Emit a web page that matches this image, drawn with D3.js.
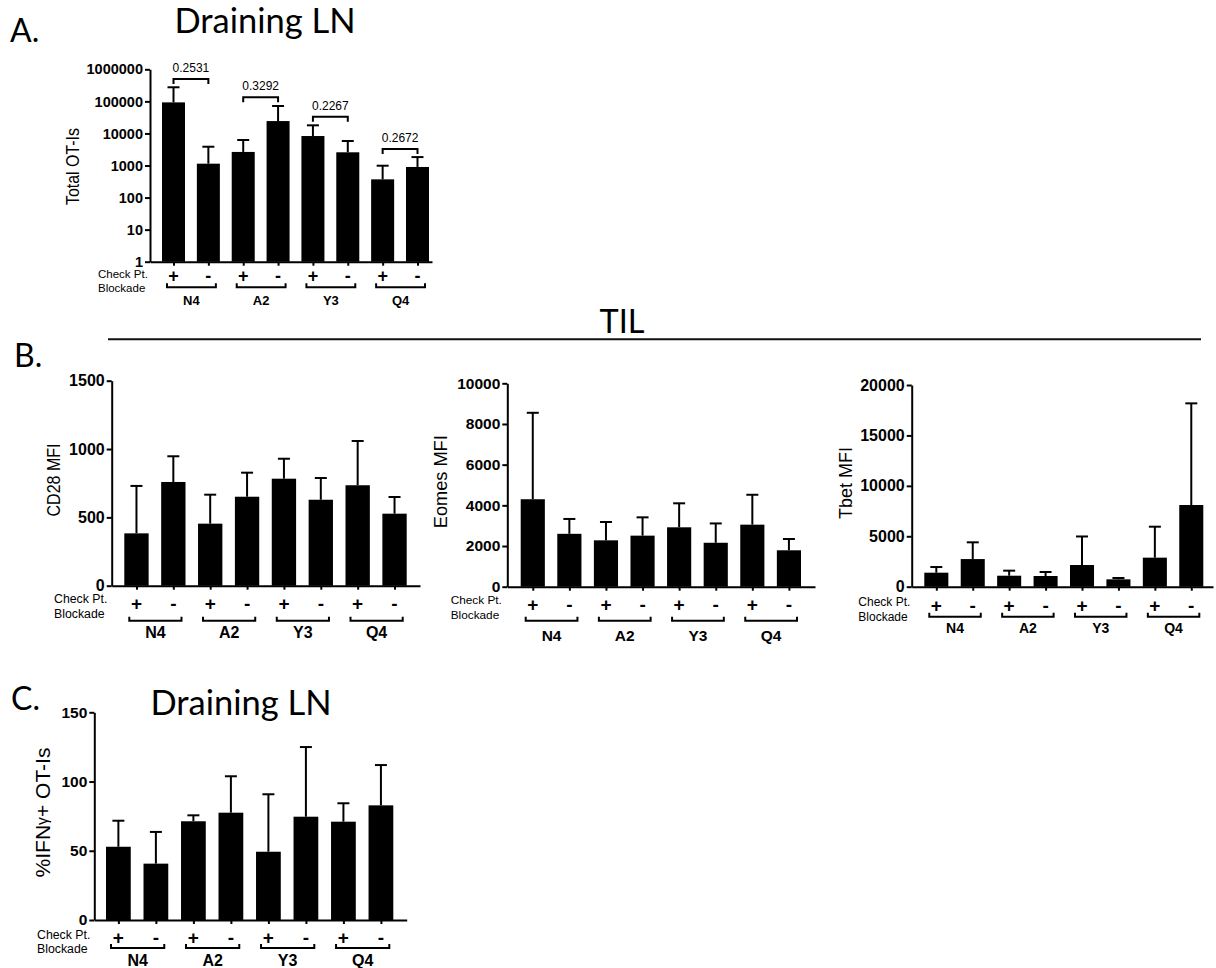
<!DOCTYPE html>
<html><head><meta charset="utf-8">
<script src="https://cdn.jsdelivr.net/npm/d3@7"></script>
<style>
html,body{margin:0;padding:0;background:#fff;}
svg{display:block;}
.ax path,.ax line{stroke:#000;stroke-width:2;}
</style></head>
<body>
<svg id="c" width="1216" height="968"></svg>
<script>
// ---------- data ----------
const groups = ["N4", "A2", "Y3", "Q4"];
const blockade = ["+", "-"];
const checkLabel = ["Check Pt.", "Blockade"];
const totalOTIsMean = [93000, 1140, 2650, 24300, 8300, 2580, 370, 900];
const totalOTIsSD   = [182000, 2710, 3590, 47300, 9600, 3220, 615, 930];
const totalTicks = [1, 10, 100, 1000, 10000, 100000, 1000000];
const pValues = ["0.2531", "0.3292", "0.2267", "0.2672"];
const cd28Mean = [383, 759, 454, 651, 783, 629, 735, 527];
const cd28SD   = [347, 188, 212, 176, 146, 159, 324, 122];
const cd28Ticks = [0, 500, 1000, 1500];
const eomesMean = [4300, 2600, 2280, 2510, 2920, 2160, 3050, 1790];
const eomesSD   = [4250, 730, 900, 900, 1180, 950, 1470, 555];
const eomesTicks = [0, 2000, 4000, 6000, 8000, 10000];
const tbetMean = [1390, 2740, 1090, 1060, 2150, 730, 2880, 8100];
const tbetSD   = [560, 1660, 500, 400, 2830, 130, 3070, 10080];
const tbetTicks = [0, 5000, 10000, 15000, 20000];
const ifngMean = [52.9, 40.7, 71.3, 77.5, 49.3, 74.6, 71.0, 82.8];
const ifngSD   = [18.8, 22.9, 4.3, 26.3, 41.5, 50.3, 13.3, 29.1];
const ifngTicks = [0, 50, 100, 150];

const bars = groups.flatMap(g => blockade.map(b => g + b));

const svg = d3.select("#c");
const ARIAL = "'Liberation Sans', Arial, sans-serif";
const CAL = "Lato, 'Open Sans', sans-serif";

function panel(cfg) {
  const g = svg.append("g");
  const x = d3.scaleBand().domain(bars).range([cfg.barL, cfg.barR]).paddingInner(0.34).paddingOuter(0);
  const bw = x.bandwidth();
  const cx = i => x(bars[i]) + bw / 2;
  let y;
  if (cfg.log) y = d3.scaleLog().domain([1, 1000000]).range([cfg.y0, cfg.yTop]);
  else y = d3.scaleLinear().domain([0, cfg.max]).range([cfg.y0, cfg.yTop]);

  // bars
  g.selectAll("rect.bar").data(cfg.mean).join("rect")
    .attr("x", (d, i) => x(bars[i])).attr("width", bw)
    .attr("y", d => y(d)).attr("height", d => cfg.y0 - y(d))
    .attr("fill", "#000");
  // upper error bars
  const cap = 6;
  cfg.mean.forEach((m, i) => {
    const top = y(m + cfg.sd[i]);
    g.append("line").attr("x1", cx(i)).attr("x2", cx(i)).attr("y1", y(m)).attr("y2", top)
      .attr("stroke", "#000").attr("stroke-width", 2);
    g.append("line").attr("x1", cx(i) - cap).attr("x2", cx(i) + cap).attr("y1", top).attr("y2", top)
      .attr("stroke", "#000").attr("stroke-width", 2);
  });

  // y axis
  const ya = d3.axisLeft(y).tickValues(cfg.ticks).tickSize(5).tickSizeOuter(0).tickPadding(2)
    .tickFormat(d3.format("d"));
  const yg = g.append("g").attr("class", "ax").attr("transform", `translate(${cfg.ax},0)`).call(ya);
  yg.selectAll("text").attr("font-family", ARIAL).attr("font-weight", "bold")
    .attr("font-size", cfg.tickFs).attr("fill", "#000");

  // x axis baseline with small ticks at bar centres
  const xa = d3.axisBottom(d3.scaleLinear().domain([cfg.ax, cfg.axR]).range([cfg.ax, cfg.axR]))
    .tickValues(bars.map((b, i) => cx(i))).tickSize(4).tickSizeOuter(0).tickFormat("");
  g.append("g").attr("class", "ax").attr("transform", `translate(0,${cfg.y0})`).call(xa);

  // y title
  const tt = g.append("text").attr("transform", `translate(${cfg.titleX},${cfg.titleY}) rotate(-90)`)
    .attr("text-anchor", "middle").attr("dominant-baseline", "central")
    .attr("font-family", ARIAL).attr("font-size", cfg.titleFs).attr("fill", "#000");
  if (cfg.titleParts) {
    cfg.titleParts.forEach(p => {
      const ts = tt.append("tspan").text(p.t);
      if (p.small) ts.attr("font-size", cfg.titleFs * 0.75);
    });
  } else tt.text(cfg.title);
  if (cfg.titleLen) tt.attr("textLength", cfg.titleLen).attr("lengthAdjust", "spacingAndGlyphs");

  // Check Pt. / Blockade
  checkLabel.forEach((t, k) => {
    g.append("text").attr("x", cfg.checkX).attr("y", cfg.y0 + (k === 0 ? cfg.dCheck : cfg.dBlock))
      .attr("dominant-baseline", "central").attr("font-family", ARIAL)
      .attr("font-size", cfg.checkFs).attr("fill", "#000").text(t);
  });
  // + / -
  bars.forEach((b, i) => {
    g.append("text").attr("x", cx(i)).attr("y", cfg.y0 + cfg.dPM)
      .attr("text-anchor", "middle").attr("dominant-baseline", "central")
      .attr("font-family", ARIAL).attr("font-weight", "bold").attr("font-size", cfg.pmFs).attr("fill", "#000")
      .text(blockade[i % 2]);
  });
  // group brackets and labels
  groups.forEach((gr, k) => {
    const l = x(bars[2 * k]) + 5, r = x(bars[2 * k + 1]) + bw - 4;
    const yb = cfg.y0 + cfg.dBr;
    g.append("path").attr("d", `M${l},${yb - 4}V${yb}H${r}V${yb - 4}`)
      .attr("fill", "none").attr("stroke", "#000").attr("stroke-width", 2);
    g.append("text").attr("x", (l + r) / 2).attr("y", cfg.y0 + cfg.dGrp)
      .attr("text-anchor", "middle").attr("dominant-baseline", "central")
      .attr("font-family", ARIAL).attr("font-weight", "bold").attr("font-size", cfg.grpFs)
      .attr("fill", "#000").text(gr);
  });
  return { x, y, cx };
}

// ---------- Panel A ----------
const pA = panel({
  log: true, mean: totalOTIsMean, sd: totalOTIsSD, ticks: totalTicks,
  y0: 261.7, yTop: 69.3, ax: 150, axR: 432, barL: 162, barR: 429,
  tickFs: 14.5, title: "Total OT-Is", titleX: 72, titleY: 166.5, titleFs: 19, titleLen: 77,
  checkX: 98, dCheck: 12.5, dBlock: 26.5, checkFs: 11.5,
  dPM: 14.5, pmFs: 18, dBr: 25.5, dGrp: 38.5, grpFs: 13
});
const pY = [79, 97.3, 116.7, 149];
pValues.forEach((p, k) => {
  const l = pA.cx(2 * k), r = pA.cx(2 * k + 1);
  svg.append("path").attr("d", `M${l},${pY[k] + 5}V${pY[k]}H${r}V${pY[k] + 5}`)
    .attr("fill", "none").attr("stroke", "#000").attr("stroke-width", 2);
  svg.append("text").attr("x", (l + r) / 2).attr("y", pY[k] - 11)
    .attr("text-anchor", "middle").attr("dominant-baseline", "central")
    .attr("font-family", ARIAL).attr("font-size", 12).attr("fill", "#000").text(p);
});

// ---------- Panel B ----------
panel({
  mean: cd28Mean, sd: cd28SD, ticks: cd28Ticks, max: 1500,
  y0: 585.7, yTop: 380.7, ax: 111.7, axR: 420, barL: 124.3, barR: 406.7,
  tickFs: 16, title: "CD28 MFI", titleX: 53.3, titleY: 480, titleFs: 19, titleLen: 73,
  checkX: 54, dCheck: 13.5, dBlock: 28, checkFs: 12.3,
  dPM: 17.5, pmFs: 19, dBr: 35, dGrp: 47, grpFs: 16
});
panel({
  mean: eomesMean, sd: eomesSD, ticks: eomesTicks, max: 10000,
  y0: 586.7, yTop: 383.3, ax: 507.3, axR: 815, barL: 520.7, barR: 801,
  tickFs: 15.5, title: "Eomes MFI", titleX: 440, titleY: 481.7, titleFs: 18.5, titleLen: 93,
  checkX: 450.7, dCheck: 13, dBlock: 28, checkFs: 11.8,
  dPM: 17.3, pmFs: 19, dBr: 34, dGrp: 48.3, grpFs: 15.5
});
panel({
  mean: tbetMean, sd: tbetSD, ticks: tbetTicks, max: 20000,
  y0: 586.7, yTop: 385, ax: 911.7, axR: 1213, barL: 924.3, barR: 1203.3,
  tickFs: 16, title: "Tbet MFI", titleX: 845, titleY: 483, titleFs: 19, titleLen: 72,
  checkX: 858.3, dCheck: 15, dBlock: 30.3, checkFs: 12,
  dPM: 18.3, pmFs: 19, dBr: 30, dGrp: 41.3, grpFs: 14
});

// ---------- Panel C ----------
panel({
  mean: ifngMean, sd: ifngSD, ticks: ifngTicks, max: 150,
  y0: 920, yTop: 712.3, ax: 94.3, axR: 406.7, barL: 106, barR: 393.3,
  tickFs: 15.5, titleParts: [{t: "%IFN"}, {t: "γ", small: true}, {t: "+ OT-Is"}],
  titleX: 42, titleY: 812.5, titleFs: 21,
  checkX: 37, dCheck: 15, dBlock: 29, checkFs: 12.3,
  dPM: 17, pmFs: 19, dBr: 28, dGrp: 40, grpFs: 16
});

// ---------- headings ----------
function head(t, x, y, fs, anchor) {
  svg.append("text").attr("x", x).attr("y", y).attr("text-anchor", anchor || "start")
    .attr("font-family", CAL).attr("font-size", fs).attr("fill", "#000").text(t);
}
head("A.", 10, 42, 32);
head("Draining LN", 265, 33, 34.5, "middle");
head("TIL", 622, 332.7, 32.5, "middle");
svg.append("line").attr("x1", 108).attr("x2", 1201).attr("y1", 339.3).attr("y2", 339.3)
  .attr("stroke", "#111").attr("stroke-width", 2);
head("B.", 14, 366.7, 32);
head("C.", 11, 710, 32);
head("Draining LN", 241, 715, 34.5, "middle");
</script>
</body></html>
